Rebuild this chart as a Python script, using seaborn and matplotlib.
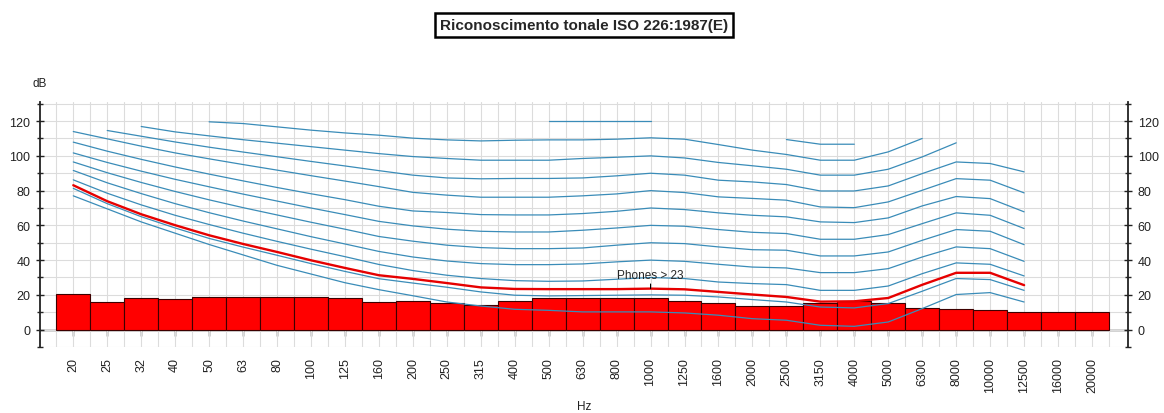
import numpy as np
import pandas as pd
import matplotlib
matplotlib.use("Agg")
import matplotlib.pyplot as plt
import seaborn as sns

nan = np.nan

# ---------------- data ----------------
freq_labels = ['20', '25', '32', '40', '50', '63', '80', '100', '125', '160', '200',
               '250', '315', '400', '500', '630', '800', '1000', '1250', '1600', '2000',
               '2500', '3150', '4000', '5000', '6300', '8000', '10000', '12500',
               '16000', '20000']

band_levels = [20.5, 15.7, 18.4, 17.7, 19.0, 19.0, 19.0, 18.5, 18.0, 15.8, 16.4,
               15.6, 14.4, 16.5, 18.1, 18.1, 18.1, 18.1, 16.6, 15.1, 13.8,
               13.8, 15.3, 16.2, 15.3, 12.6, 11.8, 11.1, 10.0, 10.0, 10.0]

# equal-loudness contours (20 Hz .. 12500 Hz)
phon_10 = [77, 69.5, 62, 55.5, 49, 43, 37, 32, 27, 23, 19.5, 15.9, 13.6, 11.7, 11.1,
           10.2, 10.2, 10.2, 9.6, 8.3, 6.3, 5.4, 2.5, 1.9, 4.4, 12.1, 20.2, 21.3, 15.9]
phon_20 = [81.3, 72.5, 65, 58.5, 52.5, 47.5, 42.8, 38, 33.5, 29.3, 26.8, 24.4, 21.7, 19.8,
           19.4, 19.6, 19.8, 20, 19.8, 18.8, 17.3, 15.9, 13, 12.5, 15, 22.1, 29.4, 28.8, 22.6]
phon_30 = [86.2, 78.5, 71.8, 65.8, 60.5, 55.5, 50.8, 46.3, 42, 37.5, 34, 31.3, 29.4, 28.2,
           27.8, 28, 29, 30, 29.4, 27.4, 26.5, 25.9, 22.6, 22.6, 25.1, 32.2, 38.4, 37.6, 30.9]
phon_40 = [91.6, 84.5, 78.3, 72.5, 67.3, 62.5, 58, 53.5, 49.3, 45, 41.8, 39.5, 38, 37.4,
           37.4, 37.8, 39, 40, 39.3, 37.6, 36, 35.5, 32.8, 32.8, 35.1, 41.8, 47.6, 46.6, 39.3]
phon_50 = [96.5, 90.3, 84.7, 79.5, 74.7, 70.2, 66, 61.8, 57.8, 53.6, 50.9, 48.6, 47.2, 46.6,
           46.6, 47, 48.6, 50, 49.5, 47.6, 46, 45.7, 42.4, 42.4, 44.7, 51.4, 57.6, 56.6, 48.9]
phon_60 = [101.7, 96.2, 91.2, 86.5, 82.2, 78, 74, 70, 66.2, 62.3, 59.7, 57.8, 56.6, 56.2,
           56.2, 57.2, 58.5, 60, 59.5, 57.6, 56, 55.3, 52, 52, 54.7, 61, 67.2, 65.8, 58.2]
phon_70 = [107.9, 102.7, 98, 93.6, 89.5, 85.6, 81.8, 78.2, 74.8, 71, 68.3, 67.4, 66.2, 66,
           66, 66.8, 68.1, 70, 69.1, 67.2, 65.8, 64.9, 62, 61.6, 64.3, 71.2, 76.6, 75.4, 67.8]
phon_80 = [114, 109.8, 105.6, 101.7, 98.3, 95, 91.8, 88.6, 85.5, 82.3, 79, 77.4, 76.2, 76.2,
           76.2, 77, 78.1, 80, 78.9, 76.4, 75.5, 74.5, 70.6, 70.2, 73.5, 80.2, 86.9, 86, 78.7]
phon_90 = [nan, 114.6, 111.3, 108, 105, 102.2, 99.5, 96.8, 94.2, 91.5, 88.9, 87.3, 86.8, 87,
           87, 87.3, 88.5, 90, 88.9, 86, 85, 83.5, 79.8, 79.8, 82.7, 89.8, 96.5, 95.6, 90.8]
phon_100 = [nan, nan, 116.9, 113.8, 111.5, 109.3, 107.3, 105.3, 103.3, 101.3, 99.6, 98.5,
            97.5, 97.5, 97.5, 98.5, 99.2, 100, 98.8, 96.2, 94.3, 92.3, 88.9, 88.9, 92.3,
            99.4, 107.5, nan, nan]
phon_110 = [nan, nan, nan, nan, 119.6, 118.6, 116.7, 114.8, 113.2, 111.9, 110.2, 109.2,
            108.6, 109, 109.2, 109.2, 109.6, 110.4, 109.6, 106.5, 103.3, 100.8, 97.5, 97.5,
            102.3, 110, nan, nan, nan]
phon_120 = [nan] * 14 + [120, 120, 120, 120] + [nan] * 3 + [109.4, 106.7, 106.7] + [nan] * 5

phon_23 = [83.1, 73.9, 66.4, 60.1, 54.3, 49.3, 44.7, 39.9, 35.5, 31.3, 29.2, 26.8, 24.3,
           23.4, 23.3, 23.3, 23.3, 23.6, 23.2, 21.7, 20.2, 18.8, 16.1, 16.3, 18.2, 25.8,
           32.7, 32.7, 25.6]

title_text = "Riconoscimento tonale ISO 226:1987(E)"
marker_text = "Phones > 23"
marker_freq = '1000'

# ---------------- style ----------------
sns.set_style("white")
plt.rcParams['font.family'] = ['Liberation Sans', 'DejaVu Sans']

W, H = 1164, 414
fig = plt.figure(figsize=(W / 100, H / 100), dpi=100)
ax = fig.add_axes([40 / W, 1 - 348 / H, 1088 / W, 245 / H])

pos = np.arange(len(freq_labels))

# bars
bars_df = pd.DataFrame({'pos': pos, 'level': band_levels})
sns.barplot(data=bars_df, x='pos', y='level', native_scale=True, width=1.0,
            color='#ff0000', saturation=1, edgecolor='#3c0000', linewidth=0.8,
            errorbar=None, ax=ax, zorder=2)

# contour lines (long format, one unit per continuous segment)
contours = [phon_10, phon_20, phon_30, phon_40, phon_50, phon_60, phon_70,
            phon_80, phon_90, phon_100, phon_110, phon_120]
rows = []
seg_id = 0
for vals in contours:
    arr = np.asarray(vals, dtype=float)
    prev_valid = False
    for i, v in enumerate(arr):
        if np.isnan(v):
            prev_valid = False
            continue
        if not prev_valid:
            seg_id += 1
        rows.append({'pos': pos[i], 'dB': v, 'seg': seg_id})
        prev_valid = True
cdf = pd.DataFrame(rows)

sns.lineplot(data=cdf, x='pos', y='dB', units='seg', estimator=None,
             color='#3a8cb8', linewidth=0.9, ax=ax, legend=False, zorder=3)

# 23 phon contour
red_df = pd.DataFrame({'pos': pos[:len(phon_23)], 'dB': phon_23})
sns.lineplot(data=red_df, x='pos', y='dB', color='#e60000', linewidth=1.7,
             ax=ax, legend=False, zorder=4)

mi = freq_labels.index(marker_freq)
ax.annotate(marker_text, xy=(pos[mi], phon_23[mi]), xytext=(0, 10),
            textcoords='offset points', ha='center', va='center', fontsize=8.5,
            arrowprops=dict(arrowstyle='-', color='black', lw=0.8, shrinkA=0, shrinkB=0),
            zorder=5)

# axes limits / ticks
ylim = (-10, 131)
ax.set_xlim(-0.98, 31.06)
ax.set_ylim(*ylim)
ax.set_xticks(pos)
ax.set_xticklabels(freq_labels, rotation=90, fontsize=9)
ax.set_xticks(np.arange(-0.5, len(pos), 0.5), minor=True)
ax.tick_params(axis='x', which='both', length=0, pad=7.5, colors='#222222')
ax.set_yticks(np.arange(0, 121, 20))
ax.set_yticks(np.arange(-10, 131, 20), minor=True)
ax.tick_params(axis='y', which='major', direction='inout', length=6, width=1,
               left=True, right=True, labelleft=True, labelright=True,
               labelsize=9, pad=4, colors='#222222')
ax.tick_params(axis='y', which='minor', direction='inout', length=4, width=1,
               left=True, right=True)
ax.set_xlabel('')
ax.set_ylabel('')
ax.grid(True, which='both', color='#dcdcdc', linewidth=0.8)
ax.set_axisbelow(True)
for s in ['top', 'bottom']:
    ax.spines[s].set_visible(False)
for s in ['left', 'right']:
    ax.spines[s].set_visible(True)
    ax.spines[s].set_color('#222222')
    ax.spines[s].set_linewidth(1.3)

# zero line with tick marks
sec = ax.secondary_xaxis((0 - ylim[0]) / (ylim[1] - ylim[0]))
sec.set_xticks(pos)
sec.tick_params(direction='out', length=4, width=1, labelbottom=False,
                labeltop=False, color='#222222')
sec.spines['bottom'].set_color('#222222')
sec.spines['bottom'].set_linewidth(1.0)

# texts
fig.text(584 / W, 1 - 26 / H, title_text, ha='center', va='center', fontsize=11,
         fontweight='bold',
         bbox=dict(boxstyle='square,pad=0.35', fc='white', ec='black', lw=1.8))
fig.text(40 / W, 1 - 84 / H, 'dB', ha='center', va='center', fontsize=8.5, color='#222222')
fig.text(584 / W, 1 - 407 / H, 'Hz', ha='center', va='center', fontsize=8.5, color='#222222')

fig.savefig('out.png', dpi=100)
